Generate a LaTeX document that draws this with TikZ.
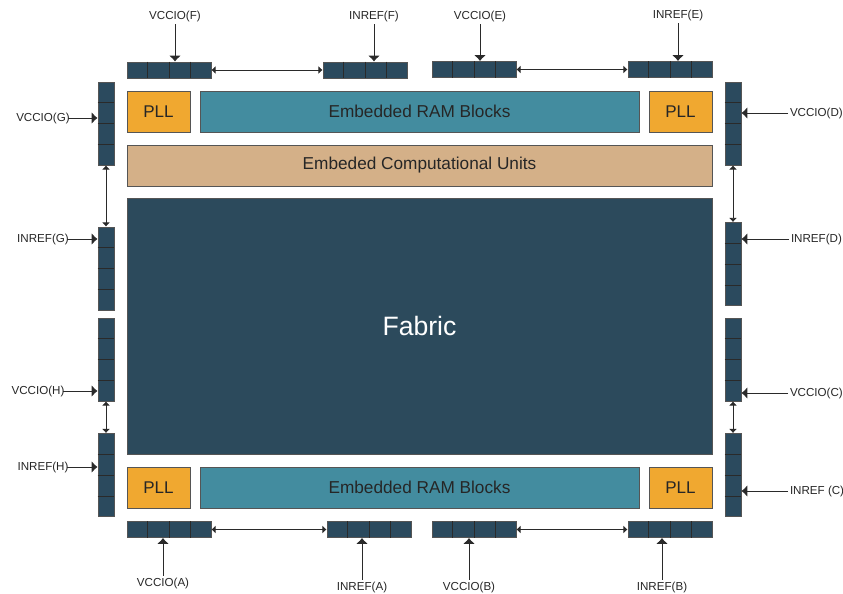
\documentclass[tikz,border=0pt]{standalone}
\usepackage{fontspec}
\setmainfont{Liberation Sans}
\usetikzlibrary{positioning,calc,arrows.meta}
\definecolor{bankblue}{HTML}{2B4A5E}
\definecolor{fabricblue}{HTML}{2C4A5C}
\definecolor{ramteal}{HTML}{438C9F}
\definecolor{pllorange}{HTML}{F0A830}
\definecolor{cutan}{HTML}{D4B088}
\definecolor{edgegray}{HTML}{555555}
\definecolor{linegray}{HTML}{2A2A2A}
\definecolor{textdark}{HTML}{262626}

\begin{document}
\begin{tikzpicture}[x=0.03cm,y=-0.03cm,
	blk/.style={draw=edgegray,line width=0.8pt,inner sep=0pt},
	hbank/.style={blk,fill=bankblue,minimum width=2.52cm,minimum height=0.48cm},
	vbank/.style={blk,fill=bankblue,minimum width=0.48cm,minimum height=2.49cm},
	pll/.style={blk,fill=pllorange,minimum width=1.89cm,minimum height=1.23cm,text=textdark,font=\fontsize{14.5}{16}\selectfont},
	ram/.style={blk,fill=ramteal,minimum width=13.17cm,minimum height=1.23cm,text=textdark,font=\fontsize{14.7}{16}\selectfont},
	cell/.style={draw=linegray,line width=0.7pt},
	pin/.style={text=textdark,inner sep=1.5pt,font=\fontsize{9.9}{11}\selectfont},
	sig/.style={draw=linegray,line width=0.8pt,-{Latex[length=5pt,width=10pt]}},
	link/.style={draw=linegray,line width=0.7pt,{Latex[length=3.5pt,width=7pt]}-{Latex[length=3.5pt,width=7pt]}}]
	\useasboundingbox (0,0) rectangle (843,594);
	% core
	\node[blk,fill=fabricblue,minimum width=17.55cm,minimum height=7.68cm,text=white,font=\fontsize{22.7}{26}\selectfont] (fab) at (419.5,326) {Fabric};
	\node[blk,fill=cutan,minimum width=17.55cm,minimum height=1.23cm,text=textdark,font=\fontsize{14.7}{16}\selectfont] (ecu) at (419.5,165.5) {Embeded Computational Units};
	\node[pll] (pllTL) at (158.5,111.5) {PLL};
	\node[ram] (ramT) at (419.5,111.5) {Embedded RAM Blocks};
	\node[pll] (pllTR) at (680.5,111.5) {PLL};
	\node[pll] (pllBL) at (158.5,487.5) {PLL};
	\node[ram] (ramB) at (419.5,487.5) {Embedded RAM Blocks};
	\node[pll] (pllBR) at (680.5,487.5) {PLL};
	% i/o banks
	\node[hbank] (F1) at (169,70) {};
	\node[hbank] (F2) at (365,70) {};
	\node[hbank] (E1) at (474,69.5) {};
	\node[hbank] (E2) at (670,69.5) {};
	\node[hbank] (A1) at (169,529.5) {};
	\node[hbank] (A2) at (369,529.5) {};
	\node[hbank] (B1) at (474,529.5) {};
	\node[hbank] (B2) at (670,529.5) {};
	\node[vbank] (G1) at (106,123.5) {};
	\node[vbank] (G2) at (106,268.5) {};
	\node[vbank] (H1) at (106,359.5) {};
	\node[vbank] (H2) at (106,475) {};
	\node[vbank] (D1) at (733,123.5) {};
	\node[vbank] (D2) at (733,264) {};
	\node[vbank] (C1) at (733,359.5) {};
	\node[vbank] (C2) at (733,475) {};
	\foreach \bk in {F1,F2,E1,E2,A1,A2,B1,B2}
		\foreach \i in {1,2,3}
			\draw[cell] ($(\bk.north west)!\i/4!(\bk.north east)$) -- ($(\bk.south west)!\i/4!(\bk.south east)$);
	\foreach \bk in {G1,G2,H1,H2,D1,D2,C1,C2}
		\foreach \i in {1,2,3}
			\draw[cell] ($(\bk.north west)!\i/4!(\bk.south west)$) -- ($(\bk.north east)!\i/4!(\bk.south east)$);
	% pin labels
	\node[pin] (vF) at (175,17) {VCCIO(F)};
	\node[pin] (rF) at (374,17) {INREF(F)};
	\node[pin] (vE) at (480,17) {VCCIO(E)};
	\node[pin] (rE) at (678,16) {INREF(E)};
	\node[pin] (vA) at (163,583) {VCCIO(A)};
	\node[pin] (rA) at (362,587) {INREF(A)};
	\node[pin] (vB) at (469,587) {VCCIO(B)};
	\node[pin] (rB) at (662,587) {INREF(B)};
	\node[pin] (vG) at (43,118) {VCCIO(G)};
	\node[pin] (rG) at (43,239) {INREF(G)};
	\node[pin] (vH) at (38,391) {VCCIO(H)};
	\node[pin] (rH) at (43,467) {INREF(H)};
	\node[pin,anchor=west] (vD) at (788,113) {VCCIO(D)};
	\node[pin,anchor=west] (rD) at (789,239) {INREF(D)};
	\node[pin,anchor=west] (vC) at (788,393) {VCCIO(C)};
	\node[pin,anchor=west] (rC) at (788,491) {INREF (C)};
	% supply arrows
	\foreach \lb/\bk in {vF/F1,rF/F2,vE/E1,rE/E2}
		\draw[sig] (\lb.south) -- (\lb.south |- \bk.north);
	\foreach \lb/\bk in {vA/A1,rA/A2,vB/B1,rB/B2}
		\draw[sig] (\lb.north) -- (\lb.north |- \bk.south);
	\foreach \lb/\bk in {vG/G1,rG/G2,vH/H1,rH/H2}
		\draw[sig] ([xshift=-3pt]\lb.east) -- (\lb.east -| \bk.west);
	\foreach \lb/\bk in {vD/D1,rD/D2,vC/C1,rC/C2}
		\draw[sig] (\lb.west) -- (\lb.west -| \bk.east);
	% bank links
	\draw[link] (F1) -- (F2);
	\draw[link] (E1) -- (E2);
	\draw[link] (A1) -- (A2);
	\draw[link] (B1) -- (B2);
	\draw[link] (G1) -- (G2);
	\draw[link] (H1) -- (H2);
	\draw[link] (D1) -- (D2);
	\draw[link] (C1) -- (C2);
\end{tikzpicture}
\end{document}
